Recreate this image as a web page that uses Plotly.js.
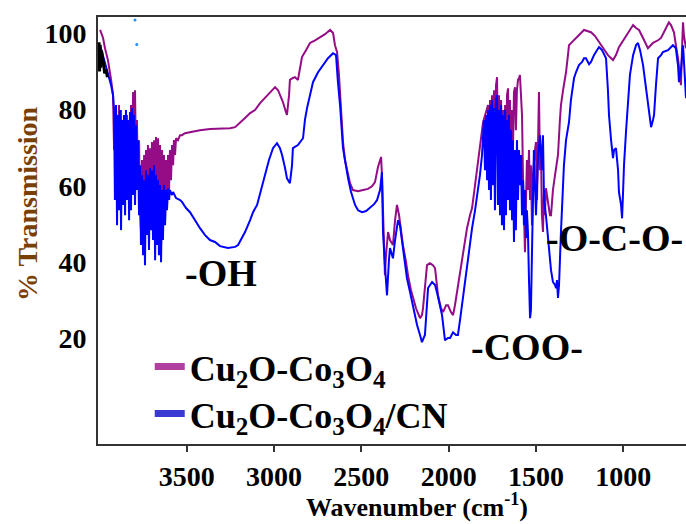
<!DOCTYPE html>
<html>
<head>
<meta charset="utf-8">
<script src="https://cdn.plot.ly/plotly-3.0.1.min.js"></script>
<style>html,body{margin:0;padding:0;background:#fff;}#chart{width:686px;height:524px;}</style>
</head>
<body>
<div id="chart"></div>
<script>
// ---- Data ----
var seriesNames = ['Cu<sub>2</sub>O-Co<sub>3</sub>O<sub>4</sub>', 'Cu<sub>2</sub>O-Co<sub>3</sub>O<sub>4</sub>/CN'];

var wnA = [3996,3979,3968,3951,3933,3922,3916,3911,3905,3899,3893,3888,3882,3876,3870,3865,3859,3853,3848,3842,3836,3830,3825,3819,3813,3807,3802,3796,3790,3785,3779,3773,3767,3762,3756,3750,3744,3739,3733,3727,3722,3716,3710,3704,3699,3693,3687,3681,3676,3670,3664,3659,3653,3647,3641,3636,3630,3624,3619,3613,3607,3601,3596,3590,3584,3578,3573,3567,3561,3550,3538,3527,3510,3481,3453,3424,3367,3309,3252,3223,3195,3166,3137,3109,3080,3052,3023,2994,2977,2966,2949,2932,2926,2914,2909,2892,2880,2863,2851,2840,2817,2794,2765,2737,2708,2679,2662,2651,2639,2628,2622,2611,2605,2594,2576,2565,2548,2519,2490,2462,2439,2422,2405,2387,2382,2376,2370,2365,2359,2347,2336,2319,2307,2296,2284,2273,2262,2244,2233,2216,2204,2187,2164,2153,2147,2136,2124,2107,2090,2078,2061,2044,2032,2015,2004,1987,1975,1964,1952,1935,1924,1907,1895,1878,1866,1849,1832,1821,1803,1786,1775,1769,1763,1758,1752,1746,1740,1735,1729,1723,1718,1712,1706,1700,1695,1689,1683,1677,1672,1666,1660,1655,1649,1643,1637,1632,1626,1620,1615,1609,1603,1597,1592,1586,1580,1574,1569,1563,1557,1552,1546,1540,1534,1529,1523,1517,1506,1500,1494,1489,1483,1477,1471,1466,1460,1454,1449,1443,1431,1420,1414,1403,1391,1374,1363,1357,1345,1328,1317,1311,1294,1282,1259,1225,1202,1185,1162,1145,1116,1088,1059,1042,1025,990,962,944,927,910,887,859,847,830,801,784,761,739,727,710,699,687,676,670,664,658,653,641];
var tA = [100.9,98.8,96.1,93.0,87.8,83.8,69.4,79.9,62.8,78.6,58.9,81.2,56.3,79.9,55.0,77.3,57.6,75.9,60.2,78.6,62.8,77.3,64.1,81.2,66.8,84.6,69.4,85.1,64.1,77.3,58.9,72.0,53.6,48.4,66.8,45.8,68.1,49.7,69.4,52.3,70.7,48.4,69.9,53.6,71.5,51.0,72.0,55.0,72.8,52.3,72.5,47.1,70.7,44.5,69.4,48.4,68.1,51.0,66.8,55.0,68.1,58.9,69.4,61.5,70.7,65.4,72.0,68.1,72.5,72.0,73.3,73.3,73.8,74.1,74.4,74.6,74.9,75.1,75.1,75.4,76.7,77.8,79.1,79.9,81.7,83.0,84.6,85.9,85.1,83.8,82.0,79.4,78.6,83.8,87.8,88.3,88.5,87.8,90.9,93.8,95.6,97.5,98.2,99.0,99.8,100.9,100.1,96.9,95.1,89.1,84.6,77.3,71.5,66.8,62.8,60.7,58.9,58.6,58.9,59.2,59.9,61.0,64.9,67.6,62.8,52.3,43.2,36.6,41.8,47.9,45.8,44.5,51.0,55.0,52.3,48.4,44.5,40.0,36.6,32.7,30.6,27.9,25.3,26.1,27.9,34.0,39.2,39.7,39.2,38.4,31.3,27.9,26.9,28.7,28.7,26.9,26.1,28.7,32.1,37.4,40.0,45.3,48.9,52.3,54.2,60.2,66.2,69.9,76.7,79.4,81.2,72.0,82.5,69.4,83.8,74.6,85.1,69.4,86.4,88.5,66.8,83.8,64.1,82.5,61.5,79.9,60.2,81.2,65.4,83.8,85.6,66.8,82.5,62.8,79.9,69.4,84.6,85.9,74.6,85.1,87.8,88.3,89.1,83.8,78.6,61.5,48.4,42.6,56.3,66.8,58.9,69.4,56.3,65.4,49.7,62.8,69.4,71.5,56.3,74.6,84.6,64.1,67.3,52.3,47.9,58.9,52.3,59.4,55.0,52.3,52.3,58.9,62.8,68.1,77.3,81.2,85.1,89.8,94.3,96.9,97.7,98.2,99.3,100.9,100.6,100.3,99.3,98.2,96.1,94.3,93.0,94.3,96.4,99.0,100.9,102.2,101.4,100.9,98.8,96.1,96.7,97.5,98.2,98.8,100.9,102.9,102.2,100.3,96.9,93.5,89.1,86.4,95.6,102.9,99.5,96.1];

var wnB = [3996,3985,3968,3951,3933,3922,3916,3911,3905,3899,3893,3888,3882,3876,3870,3865,3859,3853,3848,3842,3836,3830,3825,3819,3813,3807,3802,3796,3790,3785,3779,3773,3767,3762,3756,3750,3744,3739,3733,3727,3722,3716,3710,3704,3699,3693,3687,3681,3676,3670,3664,3659,3653,3647,3641,3636,3630,3624,3619,3613,3607,3601,3596,3584,3578,3561,3538,3527,3504,3481,3470,3447,3424,3395,3367,3338,3309,3264,3223,3206,3183,3166,3137,3120,3097,3074,3052,3029,3006,2983,2966,2954,2937,2926,2909,2897,2892,2863,2834,2823,2811,2794,2777,2748,2720,2691,2662,2645,2634,2622,2605,2588,2576,2559,2536,2519,2496,2473,2450,2427,2410,2393,2382,2376,2365,2353,2342,2336,2324,2319,2307,2290,2279,2267,2250,2239,2221,2210,2193,2181,2164,2153,2136,2124,2118,2095,2078,2067,2050,2038,2021,2004,1992,1975,1958,1947,1935,1924,1907,1895,1878,1866,1849,1838,1821,1809,1803,1798,1792,1786,1780,1775,1769,1763,1758,1752,1746,1740,1735,1729,1723,1718,1712,1706,1700,1695,1689,1683,1677,1672,1666,1660,1655,1649,1643,1637,1632,1626,1620,1615,1609,1603,1597,1592,1586,1580,1574,1569,1563,1557,1552,1546,1540,1534,1529,1523,1517,1512,1500,1489,1477,1466,1460,1454,1443,1431,1426,1414,1403,1391,1385,1380,1374,1368,1357,1345,1340,1328,1311,1300,1282,1271,1254,1236,1225,1214,1196,1185,1168,1151,1139,1122,1099,1088,1082,1070,1059,1053,1042,1030,1025,1013,1007,1002,996,984,973,962,944,927,916,904,887,870,859,847,841,830,824,813,801,784,773,744,716,699,687,681,670,658,653,641];
var tB = [96.9,95.1,92.5,89.8,86.4,83.8,79.9,56.3,81.2,49.7,78.6,53.6,79.9,48.4,77.3,55.0,78.6,52.3,79.9,56.3,77.3,51.0,79.4,53.6,80.4,57.6,78.6,55.0,75.9,58.9,72.0,52.3,65.4,44.5,62.8,41.8,61.5,39.2,64.1,47.1,62.8,43.2,64.7,48.4,64.1,45.8,65.4,40.5,62.8,44.5,61.5,41.8,60.2,40.0,58.9,45.8,60.2,49.7,58.9,53.6,59.4,56.3,58.9,57.6,58.4,56.8,56.3,55.8,54.2,53.1,52.3,50.5,48.9,47.1,45.8,45.3,44.2,43.7,44.0,44.5,46.3,47.9,51.0,53.1,55.0,58.9,62.8,66.8,69.9,71.2,69.9,68.1,64.7,62.0,60.7,65.4,69.9,70.7,72.5,77.3,80.4,84.3,87.2,89.8,91.7,93.5,94.8,94.3,87.2,81.2,69.9,64.7,62.0,58.4,55.0,53.6,53.1,53.4,54.2,55.2,56.3,58.9,63.6,47.9,39.2,31.3,40.5,43.7,41.8,41.0,45.8,51.0,49.7,45.3,40.0,35.8,32.1,29.5,26.1,23.5,20.9,19.0,20.9,30.0,33.2,34.8,34.0,32.1,28.7,26.1,19.5,20.1,20.1,21.6,20.9,20.9,24.8,28.7,34.0,38.4,44.5,48.9,53.6,56.8,62.8,68.1,72.0,77.3,64.1,78.6,61.5,79.9,58.9,81.2,56.3,82.5,60.2,80.4,53.6,82.5,83.8,55.0,79.9,52.3,81.2,49.7,78.6,48.4,79.9,52.3,77.3,56.3,78.6,53.6,74.6,51.0,72.0,45.3,69.4,48.4,72.0,56.3,69.4,60.2,68.1,52.3,61.5,49.7,58.9,46.3,53.6,47.9,35.3,25.3,27.4,43.2,56.3,69.4,52.3,66.8,73.3,64.1,73.3,56.3,52.3,45.8,43.7,37.9,34.8,34.0,33.2,35.3,30.6,34.0,47.9,60.2,65.4,72.0,76.7,82.5,88.3,89.8,91.7,92.5,93.5,93.5,91.9,92.5,94.3,95.6,96.4,95.6,93.5,85.1,78.6,72.0,67.3,69.4,69.9,64.1,58.4,55.0,51.5,57.6,65.4,74.6,83.0,89.1,94.3,96.9,97.5,95.6,91.7,85.1,81.2,76.7,75.4,77.3,78.6,86.4,93.5,94.3,95.1,95.6,96.9,96.1,91.7,87.2,90.4,96.9,93.0,83.0];

// small black segment and stray points at the high-wavenumber end
var wnK = [4002,3999,3996,3993,3988,3982,3976,3970,3962,3954];
var tK = [97.7,90.0,97.0,91.0,95.5,94.0,92.0,89.5,90.5,88.5];
var wnDots = [3796,3786];
var tDots = [103.5,97.1];

var xTicks = [3500,3000,2500,2000,1500,1000];
var yTicks = [20,40,60,80,100];

var serif = 'Times New Roman, Liberation Serif, serif';

var traces = [
  {x: wnA, y: tA, mode: 'lines', line: {color: '#940d86', width: 2}, showlegend: false, hoverinfo: 'skip'},
  {x: wnB, y: tB, mode: 'lines', line: {color: '#0000ff', width: 2}, showlegend: false, hoverinfo: 'skip'},
  {x: wnK, y: tK, mode: 'lines', line: {color: '#000000', width: 3}, showlegend: false, hoverinfo: 'skip'},
  {x: wnDots, y: tDots, mode: 'markers', marker: {color: '#1e90ff', size: 3}, showlegend: false, hoverinfo: 'skip'},
  {x: [null], y: [null], mode: 'lines', name: seriesNames[0], line: {color: '#b040a0', width: 7}, legend: 'legend'},
  {x: [null], y: [null], mode: 'lines', name: seriesNames[1], line: {color: '#3a3ad2', width: 7}, legend: 'legend2'}
];

var legFont = {family: serif, size: 36, color: '#000', weight: 'bold'};
var layout = {
  width: 686, height: 524,
  margin: {l: 98, r: 0, t: 17, b: 80},
  paper_bgcolor: '#fff', plot_bgcolor: '#fff',
  xaxis: {
    range: [4008, 641], tickvals: xTicks, ticks: 'outside', ticklen: 6, tickwidth: 2, tickcolor: '#333',
    showline: true, linecolor: '#333', linewidth: 2, mirror: true, showgrid: false, zeroline: false,
    tickfont: {family: serif, size: 28, color: '#000', weight: 'bold'}
  },
  yaxis: {
    range: [-7.7, 104.3], tickvals: yTicks, ticks: 'outside', ticklen: 4, tickcolor: 'rgba(0,0,0,0)',
    showline: true, linecolor: '#333', linewidth: 2, showgrid: false, zeroline: false,
    tickfont: {family: serif, size: 28, color: '#000', weight: 'bold'}
  },
  legend: {x: 0.088, xanchor: 'left', y: 0.181, yanchor: 'middle', bgcolor: 'rgba(0,0,0,0)', font: legFont, itemwidth: 30},
  legend2: {x: 0.088, xanchor: 'left', y: 0.071, yanchor: 'middle', bgcolor: 'rgba(0,0,0,0)', font: legFont, itemwidth: 30},
  annotations: [
    {text: '-OH', xref: 'paper', yref: 'paper', x: 0.209, y: 0.40, xanchor: 'center', yanchor: 'middle', showarrow: false,
     font: {family: serif, size: 38, color: '#000', weight: 'bold'}},
    {text: '-COO-', xref: 'paper', yref: 'paper', x: 0.7296, y: 0.227, xanchor: 'center', yanchor: 'middle', showarrow: false,
     font: {family: serif, size: 38, color: '#000', weight: 'bold'}},
    {text: '-O-C-O-', xref: 'paper', yref: 'paper', x: 0.758, y: 0.482, xanchor: 'left', yanchor: 'middle', showarrow: false,
     font: {family: serif, size: 38, color: '#000', weight: 'bold'}},
    {text: 'Wavenumber (cm<sup>-1</sup>)', xref: 'paper', yref: 'paper', x: 0.5425, y: -0.143, xanchor: 'center', yanchor: 'middle', showarrow: false,
     font: {family: serif, size: 26, color: '#000', weight: 'bold'}},
    {text: '% Transmission', xref: 'paper', yref: 'paper', x: -0.1207, y: 0.562, xanchor: 'center', yanchor: 'middle', textangle: -90, showarrow: false,
     font: {family: serif, size: 28, color: '#7a3f05', weight: 'bold'}}
  ]
};

Plotly.newPlot('chart', traces, layout, {displayModeBar: false, staticPlot: true});
</script>
</body>
</html>
